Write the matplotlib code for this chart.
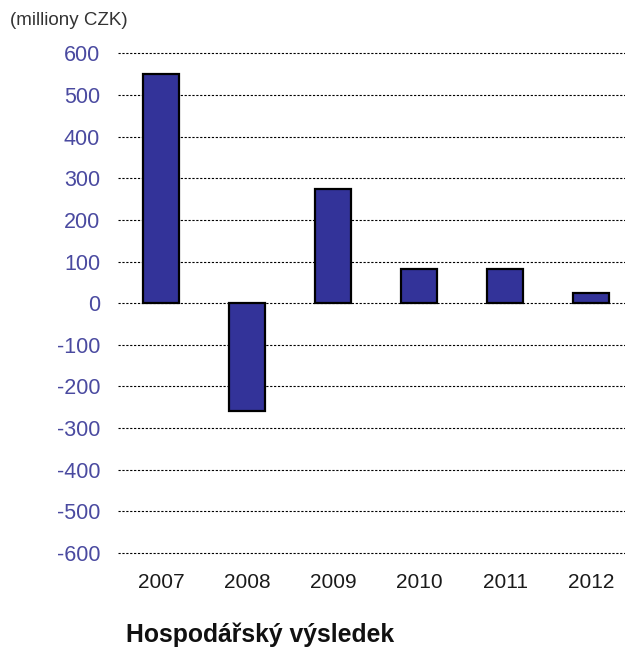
import matplotlib
matplotlib.use("Agg")
import matplotlib.pyplot as plt

years = ["2007", "2008", "2009", "2010", "2011", "2012"]
values = [550, -260, 275, 82, 82, 25]
y_ticks = [600, 500, 400, 300, 200, 100, 0, -100, -200, -300, -400, -500, -600]

plt.rcParams["font.family"] = ["Liberation Sans", "DejaVu Sans"]

fig = plt.figure(figsize=(6.25, 6.5), dpi=100)
# axes padded slightly past ±600 so the outer gridlines are not clipped
ax = fig.add_axes([0.189, 0.1459, 0.811, 0.7753])

ax.set_ylim(-605, 605)
ax.set_yticks(y_ticks)
ax.set_yticklabels([str(t) for t in y_ticks], color="#4a4aa0", fontsize=15.5)
ax.yaxis.grid(True, color="black", linestyle=(0, (2.0, 1.5)), linewidth=0.8)
ax.set_axisbelow(True)

x = list(range(len(years)))
ax.bar(x, values, width=0.42, color="#333399", edgecolor="black", linewidth=1.6, zorder=3)
ax.set_xlim(-0.5, 5.395)
ax.set_xticks(x)
ax.set_xticklabels(years, fontsize=15, color="#1a1a1a")

for s in ax.spines.values():
    s.set_visible(False)
ax.tick_params(axis="both", length=0)
ax.tick_params(axis="y", pad=13)
ax.tick_params(axis="x", pad=13)

fig.text(0.016, 0.968, "(milliony CZK)", fontsize=13.5, color="#333333", va="center", ha="left")
fig.text(0.201, 0.023, "Hospodářský výsledek", fontsize=17.8, fontweight="bold",
         color="#111111", ha="left", va="center")

fig.savefig("out.png", dpi=100)
